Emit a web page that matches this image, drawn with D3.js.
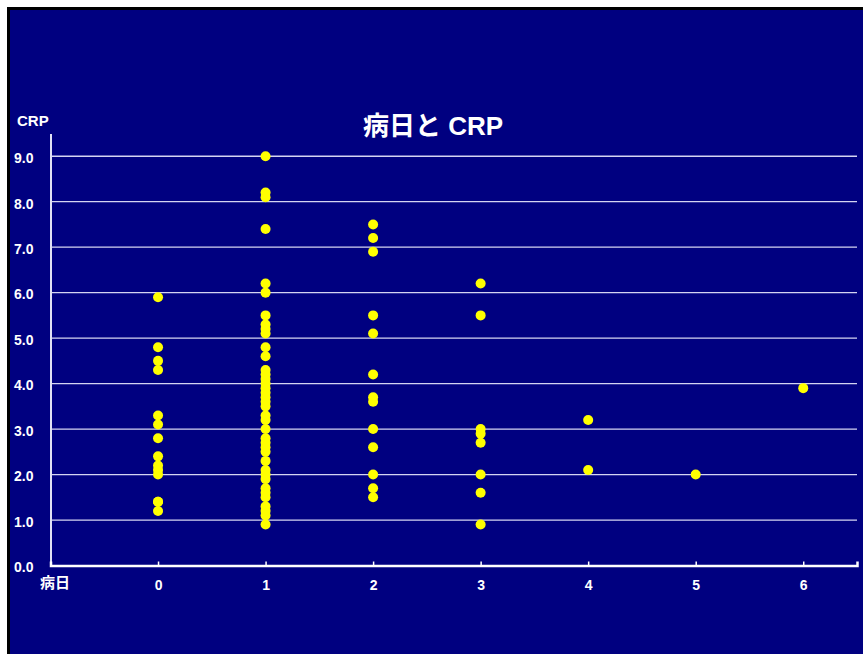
<!DOCTYPE html>
<html>
<head>
<meta charset="utf-8">
<script src="https://cdn.jsdelivr.net/npm/d3@7"></script>
<style>
  html, body { margin: 0; padding: 0; background: #ffffff; }
  svg { display: block; }
  text { font-family: "Liberation Sans", Arial, "Noto Sans CJK JP", sans-serif; fill: #ffffff; }
</style>
</head>
<body>
<svg id="chart" width="863" height="654"></svg>
<script>
// Disease day (病日) and CRP values measured on that day
const days = [0, 1, 2, 3, 4, 5, 6];
const crpDay0 = [5.9, 4.8, 4.5, 4.3, 3.3, 3.1, 2.8, 2.4, 2.2, 2.1, 2.0, 1.4, 1.4, 1.2];
const crpDay1 = [9.0, 8.2, 8.1, 7.4, 6.2, 6.0, 5.5, 5.3, 5.2, 5.1, 4.8, 4.6, 4.3, 4.2, 4.1,
                 4.0, 3.9, 3.8, 3.7, 3.6, 3.5, 3.3, 3.2, 3.0, 2.8, 2.7, 2.6, 2.5, 2.3, 2.1,
                 2.0, 1.9, 1.7, 1.6, 1.5, 1.3, 1.2, 1.1, 0.9];
const crpDay2 = [7.5, 7.2, 6.9, 5.5, 5.1, 4.2, 3.7, 3.6, 3.0, 2.6, 2.0, 1.7, 1.5];
const crpDay3 = [6.2, 5.5, 3.0, 2.9, 2.7, 2.0, 1.6, 0.9];
const crpDay4 = [3.2, 2.1];
const crpDay5 = [2.0];
const crpDay6 = [3.9];
const yTicks = [0, 1, 2, 3, 4, 5, 6, 7, 8, 9];

const crpByDay = [crpDay0, crpDay1, crpDay2, crpDay3, crpDay4, crpDay5, crpDay6];
const points = days.flatMap((d, i) => crpByDay[i].map(v => ({ day: d, crp: v })));

const svg = d3.select("#chart");

// Panel background with dark frame
svg.append("rect")
  .attr("x", 8.5).attr("y", 8.5)
  .attr("width", 860).attr("height", 650)
  .attr("fill", "#000080")
  .attr("stroke", "#000000")
  .attr("stroke-width", 3);

const x = d3.scaleLinear().domain([-1, 6.5]).range([50.5, 857]);
const y = d3.scaleLinear().domain([0, 9.5]).range([565.5, 133.5]);

// Horizontal gridlines
svg.append("g")
  .selectAll("line")
  .data(yTicks.filter(t => t > 0))
  .join("line")
  .attr("x1", x(-1)).attr("x2", x(6.5))
  .attr("y1", d => y(d)).attr("y2", d => y(d))
  .attr("stroke", "#d4d4f2")
  .attr("stroke-width", 1.3);

// Y axis
const yAxis = svg.append("g")
  .attr("transform", `translate(${x(-1)},0)`)
  .call(d3.axisLeft(y).tickValues(yTicks).tickFormat(d3.format(".1f")).tickSize(0).tickPadding(17));
yAxis.select(".domain").attr("stroke", "#e0e0f4").attr("stroke-width", 2);
yAxis.selectAll("text")
  .attr("font-size", 14).attr("font-weight", "bold").attr("dy", "0.45em")
  .style("fill", "#ffffff");

// X axis, ticks pointing upward
const xAxis = svg.append("g")
  .attr("transform", `translate(0,${y(0)})`)
  .call(d3.axisBottom(x).tickValues(days).tickFormat(d3.format("d")).tickSize(-4).tickPadding(15));
xAxis.select(".domain").attr("stroke", "#ffffff").attr("stroke-width", 2.5);
xAxis.selectAll(".tick line").attr("stroke", "#ffffff").attr("stroke-width", 1.5);
xAxis.selectAll("text")
  .attr("font-size", 14).attr("font-weight", "bold")
  .style("fill", "#ffffff");

// Axis titles
svg.append("text")
  .attr("x", 17).attr("y", 126)
  .attr("font-size", 15).attr("font-weight", "bold")
  .text("CRP");

svg.append("text")
  .attr("x", 40).attr("y", 588)
  .attr("font-size", 15).attr("font-weight", "bold")
  .text("病日");

// Chart title
svg.append("text")
  .attr("x", 433).attr("y", 135)
  .attr("text-anchor", "middle")
  .attr("font-size", 26).attr("font-weight", "bold")
  .text("病日と CRP");

// Data points
svg.append("g")
  .selectAll("circle")
  .data(points)
  .join("circle")
  .attr("cx", d => x(d.day))
  .attr("cy", d => y(d.crp))
  .attr("r", 5)
  .attr("fill", "#ffff00");
</script>
</body>
</html>
